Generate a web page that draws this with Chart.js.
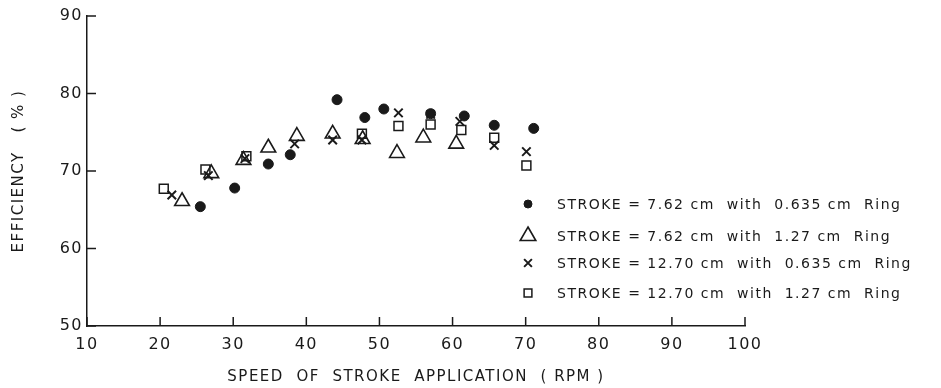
<!DOCTYPE html>
<html>
<head>
<meta charset="utf-8">
<script src="https://cdn.jsdelivr.net/npm/chart.js@4"></script>
<style>
  html, body { margin: 0; padding: 0; background: #fff; }
  #wrap { width: 941px; height: 388px; }
</style>
</head>
<body>
<div id="wrap"><canvas id="myChart" width="941" height="388"></canvas></div>
<script>
//////////////////// Data ////////////////////
const labels = [
  'STROKE = 7.62 cm  with  0.635 cm  Ring',
  'STROKE = 7.62 cm  with  1.27 cm  Ring',
  'STROKE = 12.70 cm  with  0.635 cm  Ring',
  'STROKE = 12.70 cm  with  1.27 cm  Ring'
];

// stroke 7.62 cm, 0.635 cm ring (filled circles)
const speedA = [25.5, 30.2, 34.8, 37.8, 44.2, 48.0, 50.6, 57.0, 61.6, 65.7, 71.1];
const effA   = [65.4, 67.8, 70.9, 72.1, 79.2, 76.9, 78.0, 77.4, 77.1, 75.9, 75.5];

// stroke 7.62 cm, 1.27 cm ring (open triangles)
const speedB = [23.0, 27.0, 31.4, 34.8, 38.7, 43.6, 47.7, 52.4, 56.0, 60.5];
const effB   = [66.1, 69.7, 71.4, 73.0, 74.5, 74.8, 74.1, 72.3, 74.3, 73.5];

// stroke 12.70 cm, 0.635 cm ring (crosses)
const speedC = [21.6, 26.6, 31.6, 38.4, 43.6, 47.6, 52.6, 57.0, 61.0, 65.7, 70.1];
const effC   = [66.9, 69.4, 71.6, 73.5, 74.0, 74.0, 77.5, 77.3, 76.4, 73.3, 72.5];

// stroke 12.70 cm, 1.27 cm ring (open squares)
const speedD = [20.5, 26.2, 31.8, 47.6, 52.6, 57.0, 61.2, 65.7, 70.1];
const effD   = [67.7, 70.2, 71.9, 74.8, 75.8, 76.0, 75.3, 74.3, 70.7];

const xTicks = [10, 20, 30, 40, 50, 60, 70, 80, 90, 100];
const yTicks = [50, 60, 70, 80, 90];
///////////////////////////////////////////////////////////////////

const ink = '#1a1a1a';
const fontFam = "'DejaVu Sans', Verdana, sans-serif";
const spacing = '1.5px';   // the typed figure has widely spaced lettering

function pts(xs, ys) {
  return xs.map((x, i) => ({ x: x, y: ys[i] }));
}

const data = {
  datasets: [{
    label: labels[0],
    data: pts(speedA, effA),
    pointStyle: 'circle',
    pointRadius: 5,
    backgroundColor: ink,
    borderColor: ink,
    borderWidth: 1,
    legendRadius: 4
  }, {
    label: labels[1],
    data: pts(speedB, effB),
    pointStyle: 'triangle',
    pointRadius: 8.5,
    backgroundColor: 'rgba(255,255,255,0)',
    borderColor: ink,
    borderWidth: 1.6,
    legendRadius: 9
  }, {
    label: labels[2],
    data: pts(speedC, effC),
    pointStyle: 'crossRot',
    pointRadius: 6,
    backgroundColor: ink,
    borderColor: ink,
    borderWidth: 2,
    legendRadius: 5.5
  }, {
    label: labels[3],
    data: pts(speedD, effD),
    pointStyle: 'rect',
    pointRadius: 6.3,
    backgroundColor: 'rgba(255,255,255,0)',
    borderColor: ink,
    borderWidth: 1.5,
    legendRadius: 5.5
  }]
};

///////////// inward tick marks + legend drawn by hand /////////////
const paperDecor = {
  id: 'paperDecor',
  beforeUpdate(chart) {
    chart.ctx.letterSpacing = spacing;
  },
  beforeDraw(chart) {
    chart.ctx.letterSpacing = spacing;
  },
  afterDraw(chart) {
    const { ctx, chartArea: { left, bottom }, scales: { x, y } } = chart;
    ctx.save();
    ctx.strokeStyle = ink;
    ctx.lineWidth = 1.5;
    ctx.beginPath();
    xTicks.forEach(v => {
      const px = x.getPixelForValue(v);
      ctx.moveTo(px, bottom);
      ctx.lineTo(px, bottom - 9);
    });
    yTicks.forEach(v => {
      const py = y.getPixelForValue(v);
      ctx.moveTo(left, py);
      ctx.lineTo(left + 9, py);
    });
    ctx.stroke();

    // legend block, lower right of the plot
    const rows = [204, 236, 263, 293];
    ctx.font = '14px ' + fontFam;
    ctx.letterSpacing = spacing;
    ctx.textBaseline = 'middle';
    chart.data.datasets.forEach((ds, i) => {
      ctx.lineWidth = ds.borderWidth;
      ctx.strokeStyle = ds.borderColor;
      ctx.fillStyle = ds.backgroundColor;
      Chart.helpers.drawPoint(ctx, {
        pointStyle: ds.pointStyle,
        radius: ds.legendRadius,
        rotation: 0,
        borderWidth: ds.borderWidth
      }, 528, rows[i]);
      ctx.fillStyle = ink;
      ctx.fillText(ds.label, 557, rows[i] + 1);
    });
    ctx.restore();
  }
};

const config = {
  type: 'scatter',
  data: data,
  options: {
    responsive: false,
    animation: false,
    layout: {
      padding: { left: 0, right: 196, top: 16, bottom: 0 }
    },
    plugins: {
      legend: { display: false },
      tooltip: { enabled: false }
    },
    scales: {
      x: {
        min: 10,
        max: 100,
        afterFit(scale) { scale.height = 62; },
        afterBuildTicks(scale) { scale.ticks = xTicks.map(v => ({ value: v })); },
        border: { display: true, color: ink, width: 1.5 },
        grid: { display: false, drawTicks: false },
        ticks: {
          padding: 9,
          color: ink,
          font: { family: fontFam, size: 16 }
        },
        title: {
          display: true,
          text: 'SPEED  OF  STROKE  APPLICATION  ( RPM )',
          color: ink,
          padding: { top: 0, bottom: 2 },
          font: { family: fontFam, size: 15 }
        }
      },
      y: {
        min: 50,
        max: 90,
        afterFit(scale) { scale.width = 87; },
        afterBuildTicks(scale) { scale.ticks = yTicks.map(v => ({ value: v })); },
        border: { display: true, color: ink, width: 1.5 },
        grid: { display: false, drawTicks: false },
        ticks: {
          padding: 4,
          color: ink,
          font: { family: fontFam, size: 16 }
        },
        title: {
          display: true,
          text: 'EFFICIENCY   ( % )',
          color: ink,
          padding: { top: 10, bottom: 0 },
          font: { family: fontFam, size: 15 }
        }
      }
    }
  },
  plugins: [paperDecor]
};

const chart1 = document.getElementById('myChart').getContext('2d');
new Chart(chart1, config);
</script>
</body>
</html>
